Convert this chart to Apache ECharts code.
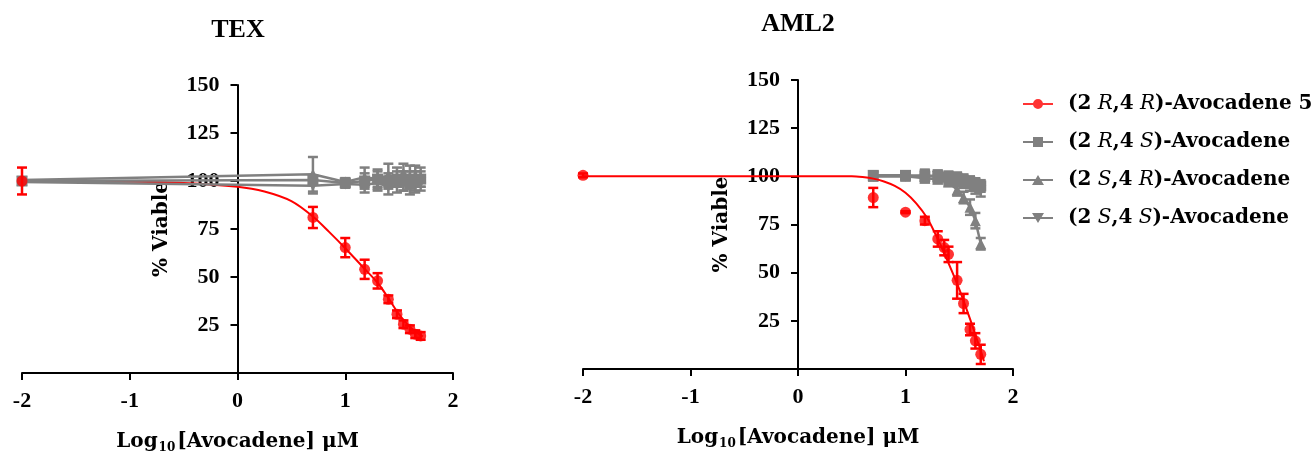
<!DOCTYPE html>
<html><head><meta charset="utf-8">
<script src="https://cdn.jsdelivr.net/npm/echarts@6.0.0/dist/echarts.min.js"></script>
<style>html,body{margin:0;padding:0;background:#fff}#c{width:1316px;height:451px}</style>
</head><body><div id="c"></div>
<script>
// ---------------- DATA ----------------
const panelTitles = ['TEX', 'AML2'];
const seriesNames = ['(2R,4R)-Avocadene 5', '(2R,4S)-Avocadene', '(2S,4R)-Avocadene', '(2S,4S)-Avocadene'];
const xTickLabels = ['-2', '-1', '0', '1', '2'];
const yTickLabels = ['25', '50', '75', '100', '125', '150'];

// TEX panel: log10 dose
const texDose = [-2, 0.7, 1.0, 1.18, 1.3, 1.4, 1.48, 1.54, 1.6, 1.65, 1.7];
const texRR = [100, 81, 65.3, 54, 48, 38.4, 30.6, 25.4, 22.8, 20.2, 19.3];
const texRRerr = [7, 5.5, 5, 5, 4, 2, 2, 2, 2, 2, 2];
const texRS = [100, 100.5, 99, 100, 101, 100, 101, 100, 101, 100, 101];
const texRSerr = [1, 2, 2, 4, 4, 4, 4, 5, 4, 5, 4];
const texSR = [100.5, 103.5, 99.5, 102, 101, 103, 102, 104, 102, 103, 102];
const texSRerr = [1, 9, 2, 5, 5, 6, 5, 5, 6, 5, 5];
const texSS = [99.5, 97.5, 98.5, 98, 99, 97, 98, 99, 97, 98, 99];
const texSSerr = [1, 4, 2, 4, 4, 4, 4, 4, 4, 4, 4];
// TEX fitted curve for (2R,4R)
const texFitX = [-2, -1, -0.5, 0, 0.25, 0.5, 0.7, 0.85, 1.0, 1.15, 1.3, 1.4, 1.5, 1.6, 1.72];
const texFitRR = [100, 99.6, 99, 97, 94.5, 89.5, 81.5, 73.5, 65, 56, 47, 39, 30.5, 24, 19];

// AML2 panel
const amlDoseRR = [-2, 0.7, 1.0, 1.18, 1.3, 1.36, 1.4, 1.48, 1.54, 1.6, 1.65, 1.7];
const amlRR = [100.5, 89, 81.4, 77, 67.5, 63, 59.5, 46, 34, 20.5, 14.6, 7.6];
const amlRRerr = [1, 5, 0.5, 2, 4, 4, 4, 9.5, 5, 3, 4, 5];
const amlDose = [0.7, 1.0, 1.18, 1.3, 1.4, 1.48, 1.54, 1.6, 1.65, 1.7];
const amlRS = [100.5, 100.5, 100, 100, 99.5, 99, 98, 97, 96, 95];
const amlRSerr = [2, 2, 3, 3, 3, 3, 3, 3, 3, 3];
const amlSR = [100, 100, 99, 98.5, 97, 93, 89, 84, 77, 65];
const amlSRerr = [2, 1, 2, 2, 2, 3, 3, 4, 4, 3];
const amlSS = [100, 100, 100.5, 100, 99, 98, 97, 95.5, 94, 92.5];
const amlSSerr = [2, 2, 3, 3, 3, 3, 3, 3, 3, 3];
const amlFitX = [-2, -1, 0, 0.5, 0.6, 0.7, 0.8, 0.9, 1.0, 1.1, 1.2, 1.3, 1.4, 1.5, 1.6, 1.7, 1.73];
const amlFitRR = [100, 100, 100, 100, 99.6, 98.8, 97.3, 95, 91.5, 86, 78.5, 67.5, 55, 41.5, 26, 9.5, 4];

// ---------------- STYLE ----------------
const FF = '"Liberation Serif", "Times New Roman", serif';
const FW = '"DejaVu Serif", "Liberation Serif", serif';
const RED = '#ff0000', GRAY = '#808080';
const txt = {fontFamily: FF, fontWeight: 'bold', fontSize: 22, color: '#000'};
const wide = {fontFamily: FW, fontWeight: 'bold', fontSize: 20, color: '#000'};
const zip = (xs, ys) => xs.map((x, i) => [x, ys[i]]);
const GRIDS = [
  {left: 22, top: 85, width: 431, height: 288},
  {left: 583, top: 80, width: 430, height: 289}
];

function errSeries(gi, xs, ys, es, color, z) {
  return {
    type: 'custom', name: 'err', xAxisIndex: gi, yAxisIndex: gi, z: z, silent: true,
    data: xs.map((x, i) => [x, ys[i] - es[i], ys[i] + es[i]]),
    encode: {x: 0, y: [1, 2]},
    renderItem: function (p, api) {
      const x = api.value(0);
      const a = api.coord([x, api.value(1)]), b = api.coord([x, api.value(2)]);
      const w = 5, st = {stroke: color, lineWidth: 2.5};
      return {type: 'group', children: [
        {type: 'line', shape: {x1: a[0], y1: a[1], x2: b[0], y2: b[1]}, style: st},
        {type: 'line', shape: {x1: a[0] - w, y1: a[1], x2: a[0] + w, y2: a[1]}, style: st},
        {type: 'line', shape: {x1: b[0] - w, y1: b[1], x2: b[0] + w, y2: b[1]}, style: st}
      ]};
    }
  };
}
function grayLine(gi, name, xs, ys, symbol, rot, z) {
  return {type: 'line', name: name, xAxisIndex: gi, yAxisIndex: gi, z: z,
    data: zip(xs, ys), symbol: symbol, symbolRotate: rot, symbolSize: 11, showSymbol: true,
    lineStyle: {color: GRAY, width: 2.5}, itemStyle: {color: GRAY}, animation: false};
}
function redScatter(gi, xs, ys, z) {
  return {type: 'scatter', name: seriesNames[0], xAxisIndex: gi, yAxisIndex: gi, z: z,
    data: zip(xs, ys), symbol: 'circle', symbolSize: 11, itemStyle: {color: RED}, animation: false};
}
function redFit(gi, xs, ys, z) {
  return {type: 'line', name: 'fit', xAxisIndex: gi, yAxisIndex: gi, z: z, data: zip(xs, ys),
    smooth: 0.3, symbol: 'none', lineStyle: {color: RED, width: 2}, itemStyle: {color: RED}, animation: false};
}

function xAx(gi) {
  return {type: 'value', gridIndex: gi, min: -2, max: 2, interval: 1,
    axisLine: {onZero: false, lineStyle: {color: '#000', width: 2}},
    axisTick: {length: 7, lineStyle: {color: '#000', width: 2}},
    axisLabel: Object.assign({margin: 17, formatter: v => xTickLabels[Math.round(v) + 2]}, txt),
    splitLine: {show: false},
    name: '{a|Log}{s|10}{a|[Avocadene] μM}', nameLocation: 'middle', nameGap: 57,
    nameTextStyle: {rich: {
      a: Object.assign({lineHeight: 24}, wide),
      s: {fontFamily: FW, fontWeight: 'bold', fontSize: 12, color: '#000', lineHeight: 24, verticalAlign: 'bottom', padding: [10, 2, 0, 1]}
    }}
  };
}
function yAx(gi) {
  // y axis crosses the x axis at x = 0 (middle of the [-2, 2] range)
  return {type: 'value', gridIndex: gi, min: 0, max: 150, interval: 25,
    offset: -GRIDS[gi].width / 2,
    axisLine: {show: true, onZero: false, lineStyle: {color: '#000', width: 2}},
    axisTick: {show: true, length: 7, lineStyle: {color: '#000', width: 2}},
    axisLabel: Object.assign({margin: 18, formatter: v => (v === 0 ? '' : yTickLabels[v / 25 - 1])}, txt),
    splitLine: {show: false},
    name: '% Viable', nameLocation: 'middle', nameGap: 66, nameTextStyle: wide
  };
}

const series = [
  // TEX
  redFit(0, texFitX, texFitRR, 2),
  grayLine(0, seriesNames[1], texDose, texRS, 'rect', 0, 3),
  errSeries(0, texDose, texRS, texRSerr, GRAY, 3),
  grayLine(0, seriesNames[2], texDose, texSR, 'triangle', 0, 3),
  errSeries(0, texDose, texSR, texSRerr, GRAY, 3),
  grayLine(0, seriesNames[3], texDose, texSS, 'triangle', 180, 3),
  errSeries(0, texDose, texSS, texSSerr, GRAY, 3),
  redScatter(0, texDose, texRR, 5),
  errSeries(0, texDose, texRR, texRRerr, RED, 5),
  // AML2
  grayLine(1, seriesNames[1], amlDose, amlRS, 'rect', 0, 3),
  errSeries(1, amlDose, amlRS, amlRSerr, GRAY, 3),
  grayLine(1, seriesNames[2], amlDose, amlSR, 'triangle', 0, 3),
  errSeries(1, amlDose, amlSR, amlSRerr, GRAY, 3),
  grayLine(1, seriesNames[3], amlDose, amlSS, 'triangle', 180, 3),
  errSeries(1, amlDose, amlSS, amlSSerr, GRAY, 3),
  redFit(1, amlFitX, amlFitRR, 4),
  redScatter(1, amlDoseRR, amlRR, 5),
  errSeries(1, amlDoseRR, amlRR, amlRRerr, RED, 5)
];

const LINE = 'M0,5L30,5L30,7L0,7Z ';
const icons = [
  'path://' + LINE + 'M15,1A5,5,0,1,1,14.99,1Z',
  'path://' + LINE + 'M10,1L20,1L20,11L10,11Z',
  'path://' + LINE + 'M15,1L21,11L9,11Z',
  'path://' + LINE + 'M9,1L21,1L15,11Z'
];

const chart = echarts.init(document.getElementById('c'), null, {renderer: 'canvas'});
chart.setOption({
  animation: false,
  backgroundColor: '#fff',
  title: [
    {text: panelTitles[0], left: 238, top: 17, textAlign: 'center', padding: 0,
      textStyle: {fontFamily: FF, fontWeight: 'bold', fontSize: 26, color: '#000'}},
    {text: panelTitles[1], left: 798, top: 11, textAlign: 'center', padding: 0,
      textStyle: {fontFamily: FF, fontWeight: 'bold', fontSize: 26, color: '#000'}}
  ],
  grid: GRIDS.map(g => Object.assign({outerBoundsMode: 'none', containLabel: false}, g)),
  xAxis: [xAx(0), xAx(1)],
  yAxis: [yAx(0), yAx(1)],
  legend: {
    orient: 'vertical', left: 1018, top: 89, itemWidth: 30, itemHeight: 12, itemGap: 18,
    selectedMode: false,
    data: seriesNames.map((n, i) => ({name: n, icon: icons[i]})),
    formatter: function (name) {
      const m = name.match(/^\(2([RS]),4([RS])\)(.*)$/);
      return '{p|}{n|(2}{i| ' + m[1] + '}{n|,4}{i| ' + m[2] + '}{n|)' + m[3] + '}';
    },
    textStyle: {rich: {
      p: {width: 10},
      n: Object.assign({lineHeight: 24}, wide),
      i: {fontFamily: FW, fontStyle: 'italic', fontWeight: 'normal', fontSize: 20, color: '#000', lineHeight: 24}
    }}
  },
  series: series
});
</script></body></html>
